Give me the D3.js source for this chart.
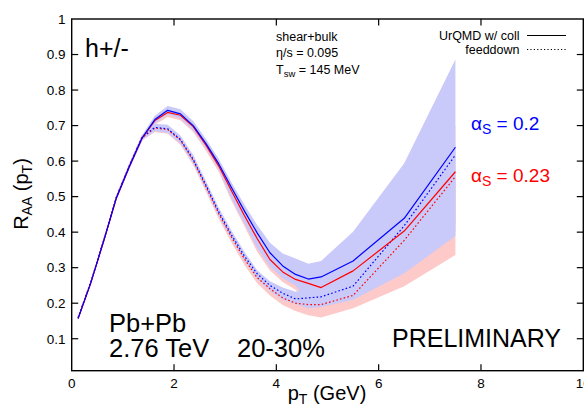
<!DOCTYPE html>
<html>
<head>
<meta charset="utf-8">
<script src="https://cdn.jsdelivr.net/npm/d3@7"></script>
<style>
  html, body { margin: 0; padding: 0; background: #fff; }
  svg { display: block; font-family: "Liberation Sans", Arial, Helvetica, sans-serif; }
</style>
</head>
<body>
<svg id="chart" width="584" height="411"></svg>
<script>
// Transverse momentum grid (GeV)
const pT = [0.125, 0.375, 0.625, 0.875, 1.125, 1.375, 1.625, 1.875, 2.125, 2.375, 2.625, 2.875,
            3.125, 3.375, 3.625, 3.875, 4.125, 4.375, 4.625, 4.875, 5.5, 6.5, 7.5];

// alpha_s = 0.2, UrQMD with collisions
const blueColl   = [0.157, 0.258, 0.375, 0.497, 0.584, 0.665, 0.717, 0.743, 0.733, 0.700, 0.649, 0.592,
                    0.525, 0.460, 0.398, 0.342, 0.305, 0.281, 0.268, 0.274, 0.319, 0.439, 0.639];
const blueCollHi = [0.160, 0.262, 0.380, 0.503, 0.591, 0.673, 0.728, 0.755, 0.746, 0.713, 0.662, 0.606,
                    0.540, 0.478, 0.420, 0.370, 0.340, 0.326, 0.311, 0.319, 0.401, 0.594, 0.886];
const blueCollLo = [0.154, 0.254, 0.370, 0.491, 0.577, 0.657, 0.706, 0.731, 0.720, 0.687, 0.636, 0.578,
                    0.495, 0.425, 0.355, 0.303, 0.270, 0.250, 0.205, 0.205, 0.225, 0.300, 0.420];

// alpha_s = 0.2, feeddown
const blueFeed   = [0.159, 0.260, 0.377, 0.499, 0.586, 0.667, 0.695, 0.691, 0.661, 0.605, 0.532, 0.457,
                    0.392, 0.333, 0.283, 0.250, 0.228, 0.212, 0.215, 0.218, 0.248, 0.418, 0.617];
const blueFeedHi = [0.162, 0.264, 0.382, 0.505, 0.593, 0.675, 0.705, 0.702, 0.672, 0.617, 0.544, 0.469,
                    0.404, 0.345, 0.293, 0.262, 0.244, 0.232, 0.240, 0.250, 0.300, 0.450, 0.650];
const blueFeedLo = [0.156, 0.256, 0.372, 0.493, 0.579, 0.659, 0.685, 0.680, 0.650, 0.593, 0.520, 0.445,
                    0.380, 0.320, 0.268, 0.235, 0.210, 0.198, 0.186, 0.189, 0.210, 0.284, 0.389];

// alpha_s = 0.23, UrQMD with collisions
const redColl   = [0.157, 0.258, 0.375, 0.497, 0.584, 0.664, 0.714, 0.737, 0.729, 0.697, 0.645, 0.586,
                   0.516, 0.447, 0.382, 0.323, 0.288, 0.267, 0.256, 0.244, 0.291, 0.403, 0.570];
const redCollHi = [0.160, 0.262, 0.380, 0.503, 0.590, 0.671, 0.724, 0.748, 0.740, 0.709, 0.657, 0.599,
                   0.530, 0.462, 0.398, 0.342, 0.310, 0.292, 0.285, 0.280, 0.340, 0.480, 0.700];
const redCollLo = [0.154, 0.254, 0.370, 0.491, 0.577, 0.656, 0.702, 0.724, 0.715, 0.682, 0.629, 0.569,
                   0.488, 0.417, 0.345, 0.292, 0.260, 0.238, 0.200, 0.200, 0.215, 0.290, 0.400];

// alpha_s = 0.23, feeddown
const redFeed   = [0.159, 0.260, 0.377, 0.499, 0.586, 0.666, 0.693, 0.689, 0.659, 0.602, 0.528, 0.452,
                   0.386, 0.325, 0.272, 0.241, 0.215, 0.200, 0.196, 0.196, 0.222, 0.377, 0.556];
const redFeedHi = [0.162, 0.264, 0.382, 0.505, 0.593, 0.674, 0.703, 0.700, 0.670, 0.614, 0.540, 0.464,
                   0.398, 0.337, 0.285, 0.254, 0.230, 0.215, 0.212, 0.212, 0.240, 0.400, 0.580];
const redFeedLo = [0.156, 0.256, 0.372, 0.493, 0.579, 0.658, 0.682, 0.677, 0.646, 0.589, 0.514, 0.437,
                   0.370, 0.308, 0.256, 0.222, 0.195, 0.178, 0.166, 0.160, 0.186, 0.248, 0.336];

// Axis ticks
const xTicks = [0, 2, 4, 6, 8, 10];
const xTickLabels = ["0", "2", "4", "6", "8", "10"];
const yTicks = [0.1, 0.2, 0.3, 0.4, 0.5, 0.6, 0.7, 0.8, 0.9, 1];
const yTickLabels = ["0.1", "0.2", "0.3", "0.4", "0.5", "0.6", "0.7", "0.8", "0.9", "1"];

const svg = d3.select("#chart");
const frameL = 71.7, frameR = 583.3, frameT = 19, frameB = 370.7;

const x = d3.scaleLinear().domain([0, 10]).range([frameL, frameR]);
const y = d3.scaleLinear().domain([0.01, 1]).range([frameB, frameT]);

const BLUE = "#0000ff", RED = "#ff0000";
const BLUE_BAND = "rgb(201,201,250)", RED_BAND = "rgb(253,201,201)";

const plot = svg.append("g");

function band(lo, hi, fill) {
  const area = d3.area()
    .x((d, i) => x(pT[i]))
    .y0((d, i) => y(lo[i]))
    .y1((d, i) => y(hi[i]));
  plot.append("path").datum(pT).attr("d", area).attr("fill", fill).attr("stroke", "none");
}
function curve(vals, color, dotted) {
  const gen = d3.line().x((d, i) => x(pT[i])).y((d, i) => y(vals[i]));
  const p = plot.append("path").datum(pT).attr("d", gen)
    .attr("fill", "none").attr("stroke", color).attr("stroke-width", 1.2)
    .attr("stroke-linejoin", "round");
  if (dotted) p.attr("stroke-dasharray", "1.6 2.2");
}

// uncertainty bands: red underneath, blue on top
band(redCollLo, redCollHi, RED_BAND);
band(redFeedLo, redFeedHi, RED_BAND);
band(blueCollLo, blueCollHi, BLUE_BAND);
band(blueFeedLo, blueFeedHi, BLUE_BAND);

// central curves
curve(redFeed, RED, true);
curve(blueFeed, BLUE, true);
curve(redColl, RED, false);
curve(blueColl, BLUE, false);

// frame
svg.append("rect").attr("x", frameL).attr("y", frameT)
  .attr("width", frameR - frameL).attr("height", frameB - frameT)
  .attr("fill", "none").attr("stroke", "#000").attr("stroke-width", 1.4);

// inward ticks on all four sides
const tickLen = 6.5;
const axes = svg.append("g").attr("stroke", "#000").attr("stroke-width", 1.2);
xTicks.filter(v => v > 0 && v < 10).forEach(v => {
  axes.append("line").attr("x1", x(v)).attr("x2", x(v)).attr("y1", frameB).attr("y2", frameB - tickLen);
  axes.append("line").attr("x1", x(v)).attr("x2", x(v)).attr("y1", frameT).attr("y2", frameT + tickLen);
});
yTicks.filter(v => v < 1).forEach(v => {
  axes.append("line").attr("x1", frameL).attr("x2", frameL + tickLen).attr("y1", y(v)).attr("y2", y(v));
  axes.append("line").attr("x1", frameR).attr("x2", frameR - tickLen).attr("y1", y(v)).attr("y2", y(v));
});

// tick labels
const labels = svg.append("g").attr("font-size", 13.5).attr("fill", "#000");
xTicks.forEach((v, i) => {
  labels.append("text").attr("x", x(v)).attr("y", 387.5).attr("text-anchor", "middle").text(xTickLabels[i]);
});
yTicks.forEach((v, i) => {
  labels.append("text").attr("x", 65.5).attr("y", y(v) + 4.8).attr("text-anchor", "end").text(yTickLabels[i]);
});

// axis titles
const xt = svg.append("text").attr("x", 327).attr("y", 399.5).attr("text-anchor", "middle").attr("font-size", 20);
xt.append("tspan").text("p");
xt.append("tspan").attr("font-size", 14).attr("dy", 4).text("T");
xt.append("tspan").attr("dy", -4).text(" (GeV)");

const yt = svg.append("text").attr("transform", "translate(28,194) rotate(-90)")
  .attr("text-anchor", "middle").attr("font-size", 20);
yt.append("tspan").text("R");
yt.append("tspan").attr("font-size", 14).attr("dy", 4).text("AA");
yt.append("tspan").attr("dy", -4).text(" (p");
yt.append("tspan").attr("font-size", 14).attr("dy", 4).text("T");
yt.append("tspan").attr("dy", -4).text(")");

// annotations
svg.append("text").attr("x", 85).attr("y", 57).attr("font-size", 25).text("h+/-");

const info = svg.append("g").attr("font-size", 12.5);
info.append("text").attr("x", 276).attr("y", 41).text("shear+bulk");
info.append("text").attr("x", 276).attr("y", 57).text("\u03b7/s = 0.095");
const tsw = info.append("text").attr("x", 276).attr("y", 74);
tsw.append("tspan").text("T");
tsw.append("tspan").attr("font-size", 9.5).attr("dy", 3).text("sw");
tsw.append("tspan").attr("dy", -3).text(" = 145 MeV");

// legend
const legend = svg.append("g").attr("font-size", 12.5);
legend.append("text").attr("x", 519.5).attr("y", 40).attr("text-anchor", "end").text("UrQMD w/ coll");
legend.append("text").attr("x", 519.5).attr("y", 54).attr("text-anchor", "end").text("feeddown");
legend.append("line").attr("x1", 527).attr("x2", 566).attr("y1", 35.5).attr("y2", 35.5)
  .attr("stroke", "#000").attr("stroke-width", 1.1);
legend.append("line").attr("x1", 527).attr("x2", 566).attr("y1", 49.5).attr("y2", 49.5)
  .attr("stroke", "#000").attr("stroke-width", 1.1).attr("stroke-dasharray", "1.2 2.2");

// coupling labels
function alphaLabel(yPos, value, color) {
  const t = svg.append("text").attr("x", 471).attr("y", yPos).attr("font-size", 19).attr("fill", color);
  t.append("tspan").text("\u03b1");
  t.append("tspan").attr("font-size", 14).attr("dy", 4).text("S");
  t.append("tspan").attr("dy", -4).text(" = " + value);
}
alphaLabel(130, "0.2", BLUE);
alphaLabel(182, "0.23", RED);

// collision system
svg.append("text").attr("x", 109).attr("y", 332).attr("font-size", 25.5).text("Pb+Pb");
svg.append("text").attr("x", 109).attr("y", 357).attr("font-size", 25.5).text("2.76 TeV");
svg.append("text").attr("x", 237).attr("y", 357).attr("font-size", 25.5).text("20-30%");
svg.append("text").attr("x", 392).attr("y", 347).attr("font-size", 25).text("PRELIMINARY");
</script>
</body>
</html>
